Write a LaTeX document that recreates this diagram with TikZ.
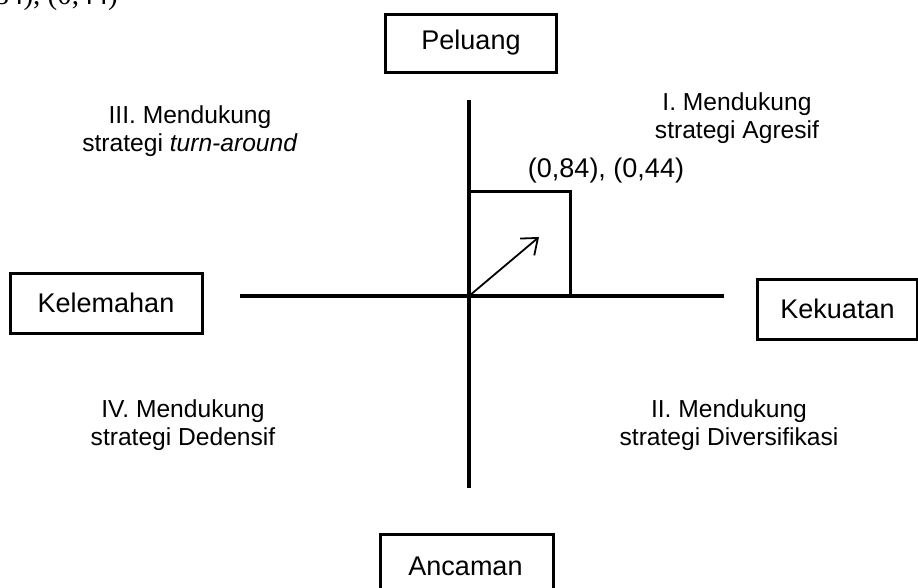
\documentclass[tikz,border=0pt]{standalone}
\usepackage{fontspec}
\setmainfont{Liberation Sans}
\newfontfamily\serifpart{Liberation Serif}
\usetikzlibrary{arrows.meta}
\begin{document}
\begin{tikzpicture}[x=1pt,y=-1pt,
  box/.style={draw,line width=3pt,minimum width=#1,inner sep=0pt,font=\fontsize{27}{30}\selectfont},
  qtext/.style={align=center,font=\fontsize{24.6}{28}\selectfont,inner sep=0pt},
  axis/.style={line width=4pt},
  sq/.style={line width=3pt}]
\useasboundingbox (0,0) rectangle (918,587);
\begin{scope}
\clip (0,0) rectangle (918,587);
% clipped fragment at top-left
\node[anchor=base east,inner sep=0pt,font=\serifpart\fontsize{29}{31}\selectfont] (frag) at (118,4) {(0,84), (0,44)};
% boxes
\node[box=171pt,minimum height=58pt] (peluang) at (471,43) {Peluang};
\node[box=192pt,minimum height=60pt] (kelemahan) at (106,303) {Kelemahan};
\node[box=160pt,minimum height=60pt,anchor=west] (kekuatan) at (756,309) {Kekuatan};
\node[box=173pt,minimum height=60pt,anchor=north west,text depth=0pt,text height=0pt] (ancaman) at (379,533) {};
\node[font=\fontsize{27}{30}\selectfont,inner sep=0pt] (anclabel) at (465.5,566) {Ancaman};
\end{scope}
% axes
\coordinate (o) at (469,296);
\coordinate (top) at (469,100);
\coordinate (bot) at (469,488);
\coordinate (left) at (240,296);
\coordinate (right) at (724,296);
\draw[axis] (top) -- (bot);
\draw[axis] (left) -- (right);
% square
\coordinate (sqtl) at (469,191);
\coordinate (sqtr) at (570,191);
\coordinate (sqbr) at (570,296);
\draw[sq] (sqtl) -- (sqtr) -- (sqbr);
% arrow
\coordinate (tip) at (539,237);
\draw[line width=1.8pt,-{Straight Barb[length=14pt,width=22pt,line width=1.8pt]}] (o) -- (tip);
\node[font=\fontsize{27}{30}\selectfont,inner sep=0pt] (val) at (606,171) {(0,84), (0,44)};
% quadrant texts
\node[qtext] (q1) at (737,118) {I. Mendukung\\strategi Agresif};
\node[qtext] (q3) at (190,131) {III. Mendukung\\strategi \textit{turn-around}};
\node[qtext] (q4) at (183,425) {IV. Mendukung\\strategi Dedensif};
\node[qtext] (q2) at (729,425) {II. Mendukung\\strategi Diversifikasi};
\end{tikzpicture}
\end{document}
